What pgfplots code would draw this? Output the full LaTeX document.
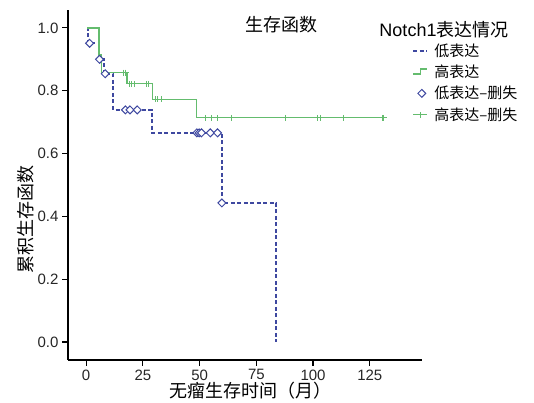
\documentclass[border=0pt]{standalone}
\usepackage{fontspec}
\setmainfont{Liberation Sans}
\newfontfamily\cjk{Noto Sans CJK SC}
\usepackage{pgfplots}
\pgfplotsset{compat=1.18}
\definecolor{lowblue}{RGB}{62,72,160}
\definecolor{highgreen}{RGB}{100,188,110}

\begin{document}
\begin{tikzpicture}[x=1pt,y=1pt]
\useasboundingbox (0,0) rectangle (534,403);
\begin{axis}[
  at={(68pt,43pt)}, anchor=south west,
  width=354pt, height=350pt, scale only axis,
  xmin=-8, xmax=148, ymin=-0.057, ymax=1.057,
  axis lines*=left,
  axis line style={line width=1.8pt, black},
  xtick={0,25,50,75,100,125},
  ytick={0,0.2,0.4,0.6,0.8,1.0},
  yticklabels={0.0,0.2,0.4,0.6,0.8,1.0},
  tick align=outside,
  major tick length=6pt,
  tick style={line width=1.2pt, black},
  tick label style={font=\fontsize{15}{15}\selectfont, text=black!85},
  /pgf/number format/assume math mode=true,
  clip=false,
  legend style={at={(0.972,0.91)}, anchor=north west, draw=none, fill=none,
    font=\cjk\fontsize{15}{15}\selectfont, row sep=3.2pt, inner sep=0pt,
    cells={anchor=west},
    /tikz/every odd column/.append style={column sep=4pt}},
  legend cell align=left,
]
\addplot[lowblue, line width=2pt, dash pattern=on 4pt off 2.5pt, const plot,
  legend image code/.code={\draw[lowblue, line width=2pt, dash pattern=on 4pt off 2.5pt] (0pt,0pt) -- (14pt,0pt);}]
  coordinates {(0.5,1.0) (1,0.951) (5.5,0.90) (7.8,0.854) (12,0.739) (29,0.666) (59.8,0.443) (83.8,0.0)};
\addlegendentry{低表达}
\addplot[highgreen, line width=1.3pt, const plot,
  legend image code/.code={\draw[highgreen, line width=1.3pt] (0pt,-2pt) -- (7pt,-2pt) -- (7pt,3pt) -- (14pt,3pt);}]
  coordinates {(0.5,1.0) (5.7,0.914) (6.9,0.858) (18,0.822) (29.2,0.773) (48.5,0.714) (131.2,0.714)};
\addlegendentry{高表达}
\addplot[only marks, mark=square*, mark size=2.8pt, mark options={rotate=45, draw=lowblue, fill=white, line width=1pt}]
  coordinates {(1.5,0.951) (5.9,0.90) (8.4,0.854) (17.3,0.739) (19.3,0.739) (22.5,0.739)
  (48.8,0.666) (49.8,0.666) (50.8,0.666) (54.7,0.666) (57.9,0.666) (59.8,0.443)};
\addlegendentry{低表达–删失}
\addplot[only marks, mark=+, mark size=3pt, mark options={draw=highgreen, line width=1pt},
  legend image code/.code={\draw[highgreen, line width=1pt] (0pt,0pt) -- (14pt,0pt) (7pt,-3pt) -- (7pt,3pt);}]
  coordinates {(16.5,0.858) (17.5,0.858) (19,0.822) (20,0.822) (21.5,0.822) (26.5,0.822) (27.5,0.822)
  (30.5,0.773) (31.5,0.773) (33,0.773)
  (52.5,0.714) (55.4,0.714) (57.9,0.714) (64,0.714) (87.8,0.714) (101.8,0.714) (103.2,0.714)
  (113.5,0.714) (130.4,0.714) (131.2,0.714)};
\addlegendentry{高表达–删失}
\end{axis}
\node[font=\cjk\fontsize{18}{18}\selectfont] at (281.5,378) {生存函数};
\node[font=\fontsize{18}{18}\selectfont] at (444,373) {Notch1{\cjk 表达情况}};
\node[font=\cjk\fontsize{18}{18}\selectfont] at (250,12) {无瘤生存时间（月）};
\node[font=\cjk\fontsize{18}{18}\selectfont, rotate=90] at (26,183) {累积生存函数};
\end{tikzpicture}
\end{document}
